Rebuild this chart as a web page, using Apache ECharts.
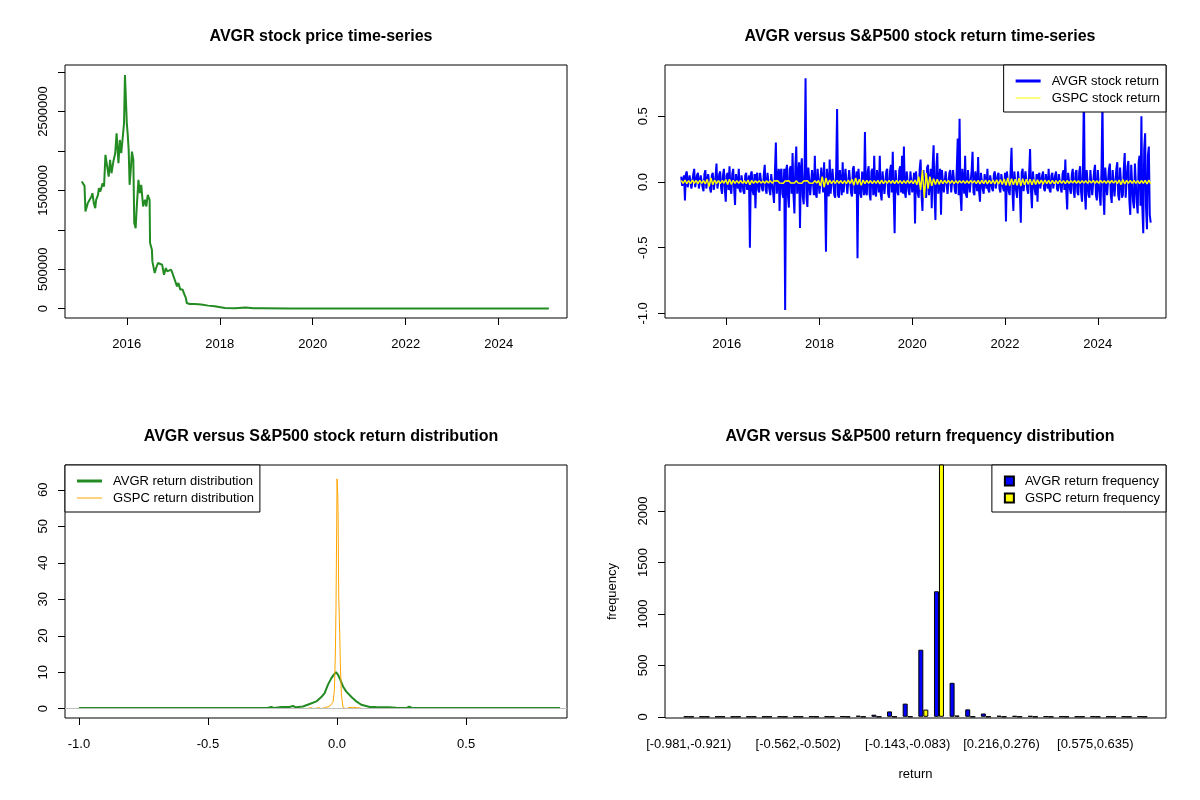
<!DOCTYPE html>
<html>
<head>
<meta charset="utf-8">
<title>AVGR versus S&amp;P500</title>
<script src="https://cdn.jsdelivr.net/npm/echarts@6.0.0/dist/echarts.min.js"></script>
<style>
html, body { margin: 0; padding: 0; background: #fff; }
#main { width: 1200px; height: 800px; }
</style>
</head>
<body>
<div id="main"></div>
<script>
// ---- AVGR price (decimal year, close) ----
var priceYears = [2015.03, 2015.07, 2015.09, 2015.11, 2015.14, 2015.16, 2015.2, 2015.24, 2015.26, 2015.29,
    2015.32, 2015.34, 2015.38, 2015.4, 2015.43, 2015.48, 2015.51, 2015.54, 2015.58, 2015.61,
    2015.64, 2015.67, 2015.71, 2015.75, 2015.78, 2015.82, 2015.85, 2015.88, 2015.91, 2015.94,
    2015.96, 2015.99, 2016.0, 2016.02, 2016.04, 2016.06, 2016.09, 2016.11, 2016.14, 2016.16,
    2016.19, 2016.21, 2016.25, 2016.28, 2016.31, 2016.35, 2016.39, 2016.42, 2016.45, 2016.49,
    2016.5, 2016.54, 2016.55, 2016.6, 2016.63, 2016.67, 2016.71, 2016.76, 2016.8, 2016.84,
    2016.87, 2016.95, 2016.98, 2017.03, 2017.08, 2017.11, 2017.15, 2017.2, 2017.24, 2017.27,
    2017.29, 2017.35, 2017.46, 2017.6, 2017.75, 2017.89, 2018.11, 2018.33, 2018.55, 2018.73,
    2018.91, 2019.5, 2020.5, 2021.5, 2022.5, 2023.5, 2024.5, 2025.08];
var priceValues = [1612000, 1591000, 1557000, 1232000, 1211000, 1338000, 1380000, 1422000, 1464000, 1338000,
    1274000, 1380000, 1443000, 1528000, 1485000, 1591000, 1549000, 1950000, 1971000, 1675000,
    1886000, 1717000, 1865000, 1971000, 2224000, 1844000, 2139000, 1971000, 2160000, 2351000,
    2962000, 2962000, 2351000, 2203000, 2013000, 1570000, 1802000, 1992000, 1886000, 1085000,
    1021000, 1253000, 1633000, 1464000, 1570000, 1296000, 1380000, 1296000, 1443000, 1380000,
    831000, 747000, 599000, 452000, 515000, 578000, 599000, 557000, 430000, 515000,
    473000, 494000, 452000, 367000, 283000, 325000, 241000, 241000, 177000, 135000,
    72000, 59000, 59000, 51000, 38000, 30000, 8000, 4000, 13000, 4000,
    4000, 3000, 2000, 2000, 1500, 1000, 1000, 800];

// ---- daily returns, AVGR read about weekly, GSPC about every 2 weeks, from 2015.02 ----
var retStart = 2015.02;
var avgrStep = 0.02;
var gspcStep = 0.04;
var avgrReturns = [
    0.04, -0.03, -0.02, 0.05, -0.14, 0.06, 0.08, -0.04, -0.05, 0.05, 0.06, -0.05, -0.04, 0.06, 0.1, -0.04, -0.05, 0.05, 0.07, -0.05,
    -0.06, 0.05, 0.05, -0.04, -0.07, 0.06, 0.09, -0.05, -0.05, 0.06, 0.06, -0.05, -0.08, 0.05, 0.07, -0.06, -0.05, 0.04, 0.14, -0.05,
    -0.06, 0.06, 0.08, -0.05, -0.09, 0.05, 0.1, -0.06, -0.15, 0.05, 0.07, -0.06, 0.12, -0.05, -0.09, 0.06, 0.1, -0.05, -0.175, 0.06,
    0.06, -0.05, 0.1, -0.06, -0.08, 0.05, 0.06, -0.07, -0.09, 0.05, 0.07, -0.06, -0.06, 0.05, -0.5, 0.06, 0.08, -0.07, -0.1, 0.06,
    -0.2, 0.05, 0.07, -0.06, -0.08, 0.07, 0.06, -0.05, -0.07, 0.06, 0.13, -0.06, -0.09, 0.07, 0.08, -0.06, -0.1, 0.06, 0.07, -0.08,
    -0.16, 0.08, 0.3, -0.09, -0.1, 0.1, -0.22, 0.08, 0.1, -0.09, -0.12, 0.1, -0.975, 0.09, 0.13, -0.1, -0.195, 0.1, 0.12, -0.09,
    0.22, -0.1, -0.24, 0.12, 0.27, -0.09, -0.1, 0.15, -0.35, 0.1, 0.18, -0.11, -0.17, 0.1, 0.79, -0.12, -0.19, 0.11, 0.12, -0.1,
    -0.11, 0.09, 0.1, -0.1, 0.2, -0.09, -0.12, 0.1, 0.1, -0.09, -0.08, 0.11, 0.12, -0.08, 0.15, -0.1, -0.53, 0.1, 0.09, -0.11,
    0.17, -0.09, -0.1, 0.1, 0.09, -0.1, -0.12, 0.09, 0.555, -0.1, -0.12, 0.09, 0.08, -0.1, 0.15, -0.08, -0.09, 0.1, 0.1, -0.09,
    -0.1, 0.09, 0.08, -0.08, -0.11, 0.1, 0.12, -0.09, -0.08, 0.08, -0.58, 0.1, 0.1, -0.09, -0.12, 0.08, 0.08, -0.1, 0.38, -0.08,
    -0.1, 0.08, 0.12, -0.09, -0.14, 0.08, 0.1, -0.1, 0.2, -0.08, -0.11, 0.09, 0.09, -0.08, 0.2, -0.09, -0.14, 0.08, 0.08, -0.09,
    -0.09, 0.08, 0.1, -0.09, -0.12, 0.08, 0.13, -0.08, 0.23, -0.1, -0.39, 0.09, 0.08, -0.08, -0.1, 0.09, 0.12, -0.08, 0.2, -0.09,
    0.27, -0.08, -0.12, 0.08, 0.09, -0.07, -0.1, 0.08, 0.07, -0.08, -0.08, 0.07, -0.315, 0.08, 0.09, -0.09, -0.12, 0.1, 0.17, -0.1,
    -0.22, 0.09, 0.1, -0.1, -0.12, 0.11, 0.13, -0.1, -0.09, 0.1, -0.2, 0.12, 0.28, -0.1, -0.29, 0.11, 0.22, -0.09, -0.1, 0.1,
    -0.25, 0.09, 0.1, -0.08, -0.09, 0.08, 0.08, -0.09, -0.1, 0.07, 0.09, -0.08, -0.08, 0.09, 0.1, -0.07, -0.09, 0.1, 0.33, -0.1,
    0.48, -0.1, -0.22, 0.1, 0.09, -0.09, 0.2, -0.1, -0.12, 0.09, 0.1, -0.08, -0.08, 0.09, 0.23, -0.08, -0.1, 0.08, 0.09, -0.07,
    0.19, -0.07, -0.15, 0.07, 0.08, -0.06, -0.09, 0.06, 0.07, -0.05, 0.1, -0.06, -0.08, 0.05, 0.06, -0.05, -0.07, 0.06, 0.08, -0.05,
    -0.06, 0.05, 0.07, -0.05, -0.08, 0.06, 0.06, -0.05, -0.07, 0.07, -0.3, 0.08, 0.08, -0.07, -0.1, 0.08, 0.26, -0.07, -0.22, 0.08,
    0.08, -0.07, -0.12, 0.08, 0.09, -0.08, -0.31, 0.07, 0.1, -0.07, -0.08, 0.08, 0.07, -0.06, -0.09, 0.07, 0.25, -0.07, -0.2, 0.08,
    0.08, -0.06, -0.1, 0.06, -0.15, 0.05, 0.07, -0.05, -0.06, 0.05, 0.08, -0.05, -0.07, 0.06, 0.06, -0.05, 0.1, -0.06, -0.08, 0.05,
    0.07, -0.05, -0.06, 0.05, 0.08, -0.05, -0.07, 0.06, 0.06, -0.05, -0.08, 0.06, 0.09, -0.06, 0.17, -0.07, -0.21, 0.07, 0.08, -0.06,
    -0.09, 0.06, 0.1, -0.07, -0.12, 0.07, 0.09, -0.08, -0.1, 0.08, 0.12, -0.08, -0.15, 0.09, 0.7, -0.09, -0.21, 0.09, 0.1, -0.1,
    -0.12, 0.09, 0.09, -0.1, -0.1, 0.08, 0.13, -0.1, -0.14, 0.09, 0.1, -0.11, -0.18, 0.1, 0.62, -0.1, -0.25, 0.11, 0.12, -0.1,
    -0.1, 0.1, 0.14, -0.1, -0.16, 0.09, 0.1, -0.11, -0.12, 0.1, 0.15, -0.1, -0.14, 0.11, 0.11, -0.12, -0.1, 0.1, 0.22, -0.12,
    -0.12, 0.12, 0.16, -0.14, -0.25, 0.13, 0.12, -0.15, -0.2, 0.14, 0.15, -0.16, -0.24, 0.15, 0.2, -0.18, 0.5, -0.2, -0.39, 0.25,
    0.37, -0.2, -0.36, 0.2, 0.27, -0.25, -0.31];
var gspcReturns = [
    0.012, -0.01, 0.015, -0.013, 0.01, -0.012, 0.014, -0.01, 0.011, -0.013,
    0.012, -0.011, 0.01, -0.014, 0.02, -0.035, 0.03, -0.02, 0.015, -0.012,
    0.01, -0.012, 0.011, -0.01, 0.018, -0.02, 0.02, -0.018, 0.012, -0.01,
    0.01, -0.011, 0.012, -0.01, 0.009, -0.012, 0.015, -0.02, 0.012, -0.01,
    0.009, -0.008, 0.01, -0.009, 0.008, -0.01, 0.009, -0.008, 0.01, -0.009,
    0.008, -0.007, 0.009, -0.008, 0.007, -0.009, 0.008, -0.007, 0.009, -0.008,
    0.007, -0.008, 0.009, -0.007, 0.008, -0.009, 0.007, -0.008, 0.009, -0.007,
    0.008, -0.009, 0.01, -0.008, 0.012, -0.03, 0.04, -0.04, 0.03, -0.02,
    0.015, -0.012, 0.01, -0.011, 0.012, -0.01, 0.011, -0.012, 0.01, -0.013,
    0.014, -0.012, 0.02, -0.025, 0.03, -0.02, 0.02, -0.025, 0.015, -0.012,
    0.012, -0.01, 0.011, -0.012, 0.01, -0.011, 0.012, -0.015, 0.014, -0.012,
    0.01, -0.011, 0.012, -0.01, 0.011, -0.013, 0.012, -0.01, 0.011, -0.012,
    0.01, -0.011, 0.012, -0.01, 0.011, -0.012, 0.015, -0.02, 0.04, -0.06,
    0.09, -0.12, 0.07, -0.05, 0.04, -0.03, 0.025, -0.02, 0.02, -0.018,
    0.015, -0.012, 0.013, -0.011, 0.012, -0.01, 0.011, -0.012, 0.01, -0.011,
    0.01, -0.009, 0.01, -0.011, 0.009, -0.01, 0.011, -0.009, 0.01, -0.012,
    0.012, -0.014, 0.013, -0.012, 0.014, -0.015, 0.012, -0.013, 0.015, -0.014,
    0.016, -0.015, 0.018, -0.02, 0.022, -0.025, 0.03, -0.028, 0.025, -0.022,
    0.02, -0.025, 0.028, -0.03, 0.025, -0.022, 0.02, -0.018, 0.02, -0.022,
    0.018, -0.02, 0.016, -0.015, 0.014, -0.016, 0.015, -0.013, 0.012, -0.014,
    0.013, -0.012, 0.011, -0.013, 0.012, -0.011, 0.01, -0.012, 0.011, -0.01,
    0.01, -0.009, 0.011, -0.01, 0.009, -0.011, 0.01, -0.009, 0.01, -0.011,
    0.01, -0.009, 0.011, -0.01, 0.009, -0.01, 0.011, -0.009, 0.01, -0.01,
    0.009, -0.01, 0.011, -0.009, 0.01, -0.012, 0.015, -0.02, 0.018, -0.015,
    0.012, -0.01, 0.011, -0.01, 0.012, -0.011, 0.01, -0.012, 0.011, -0.01,
    0.012, -0.015, 0.014, -0.012];

// ---- return densities ----
var avgrDensX = [-1.0, -0.5, -0.27, -0.255, -0.245, -0.215, -0.185, -0.17, -0.16, -0.15,
    -0.132, -0.106, -0.08, -0.061, -0.048, -0.035, -0.022, -0.013, -0.004, 0.004,
    0.013, 0.023, 0.036, 0.056, 0.075, 0.094, 0.127, 0.15, 0.2, 0.23,
    0.27, 0.28, 0.29, 0.5, 0.864];
var avgrDensY = [0.2, 0.2, 0.2, 0.5, 0.2, 0.45, 0.5, 0.75, 0.4, 0.5,
    0.6, 1.3, 2.0, 3.2, 4.3, 6.6, 8.4, 9.3, 10.0, 9.3,
    7.9, 6.1, 4.7, 3.2, 2.0, 1.1, 0.5, 0.45, 0.4, 0.3,
    0.2, 0.55, 0.2, 0.2, 0.2];
var gspcDensX = [-0.12, -0.1, -0.09, -0.07, -0.06, -0.045, -0.035, -0.027, -0.022, -0.0155,
    -0.0103, -0.0065, -0.004, -0.0013, 0, 0.0026, 0.004, 0.0065, 0.0103, 0.013,
    0.0168, 0.023, 0.034, 0.045, 0.06, 0.075, 0.09, 0.1];
var gspcDensY = [0, 0.3, 0, 0.3, 0, 0.4, 0.5, 0.8, 0.5, 1.8,
    5, 15, 28, 50, 63, 59, 54, 31, 21, 12,
    4, 0.4, 0, 0.3, 0.4, 0.3, 0.2, 0];

// ---- frequency table ----
var binLabels = ['[-0.981,-0.921)', '[-0.921,-0.861)', '[-0.861,-0.801)', '[-0.801,-0.742)', '[-0.742,-0.682)',
    '[-0.682,-0.622)', '[-0.622,-0.562)', '[-0.562,-0.502)', '[-0.502,-0.442)', '[-0.442,-0.383)',
    '[-0.383,-0.323)', '[-0.323,-0.263)', '[-0.263,-0.203)', '[-0.203,-0.143)', '[-0.143,-0.083)',
    '[-0.083,-0.023)', '[-0.023,0.036)', '[0.036,0.096)', '[0.096,0.156)', '[0.156,0.216)',
    '[0.216,0.276)', '[0.276,0.336)', '[0.336,0.396)', '[0.396,0.455)', '[0.455,0.515)',
    '[0.515,0.575)', '[0.575,0.635)', '[0.635,0.695)', '[0.695,0.755)', '[0.755,0.814)'];
var avgrFreq = [1, 0, 0, 0, 0, 0, 1, 1, 2, 1, 3, 10, 20, 52, 128, 652, 1220, 330, 72, 32, 10, 8, 8, 3, 2, 1, 2, 1, 1, 2];
var gspcFreq = [0, 0, 0, 0, 0, 0, 0, 0, 0, 0, 0, 0, 0, 0, 1, 70, 2455, 12, 0, 0, 0, 0, 0, 0, 0, 0, 0, 0, 0, 0];
var shownBins = [0, 7, 14, 20, 26];

var FONT = '"Liberation Sans", Arial, sans-serif';
var FS = 13;

var zip = function (xs, ys) {
    var res = [];
    for (var i = 0; i < xs.length; i++) {
        res.push([xs[i], ys[i]]);
    }
    return res;
};
var retSeries = function (vals, step) {
    var res = [];
    for (var i = 0; i < vals.length; i++) {
        res.push([retStart + i * step, vals[i]]);
    }
    return res;
};
// barplot(beside=TRUE) puts group i at 3*i+2
var barPos = function (i) { return 3 * i + 2; };
var barSeries = function (vals) {
    var res = [];
    for (var i = 0; i < vals.length; i++) {
        res.push([barPos(i), vals[i]]);
    }
    return res;
};

function xAx(grid, min, max, ticks, fmt) {
    return {
        type: 'value', gridIndex: grid, min: min, max: max,
        axisLine: { show: false, onZero: false },
        splitLine: { show: false },
        axisTick: { show: true, length: 7, customValues: ticks, lineStyle: { color: '#000' } },
        axisLabel: { customValues: ticks, formatter: fmt, margin: 20, color: '#000', fontSize: FS, fontFamily: FONT }
    };
}
function yAx(grid, min, max, ticks, labels, fmt) {
    return {
        type: 'value', gridIndex: grid, min: min, max: max,
        axisLine: { show: false, onZero: false },
        splitLine: { show: false },
        axisTick: { show: true, length: 7, customValues: ticks, lineStyle: { color: '#000' } },
        axisLabel: { customValues: labels, formatter: fmt, rotate: 90, margin: 15, color: '#000', fontSize: FS, fontFamily: FONT }
    };
}
var plain = function (v) { return String(v); };
var oneDec = function (v) { return v.toFixed(1); };
var years = [2016, 2018, 2020, 2022, 2024];

var thick = 'path://M0,0H25V3H0Z';
var thin = 'path://M0,0H25V1H0Z';

function legendBox(pos, items, w, h) {
    var l = {
        orient: 'vertical', top: pos.top,
        data: items,
        itemWidth: w, itemHeight: h, itemGap: 3,
        padding: [9, 6, 7, 12],
        borderColor: '#000', borderWidth: 1, borderRadius: 0,
        backgroundColor: '#fff',
        textStyle: { color: '#000', fontSize: FS, fontFamily: FONT, lineHeight: 14, padding: [0, 0, 0, 6] },
        selectedMode: false
    };
    if (pos.left !== undefined) l.left = pos.left;
    if (pos.right !== undefined) l.right = pos.right;
    return l;
}

function titleAt(text, x, y) {
    return {
        text: text, left: x, top: y, textAlign: 'center',
        textStyle: { color: '#000', fontSize: 16, fontWeight: 'bold', fontFamily: FONT }
    };
}

var chart = echarts.init(document.getElementById('main'));
var option = {
    animation: false,
    backgroundColor: '#fff',
    title: [
        titleAt('AVGR stock price time-series', 316, 24),
        titleAt('AVGR versus S&P500 stock return time-series', 915, 24),
        titleAt('AVGR versus S&P500 stock return distribution', 316, 424),
        titleAt('AVGR versus S&P500 return frequency distribution', 915, 424)
    ],
    grid: [
        { left: 65, top: 65, width: 502, height: 253, show: true, borderColor: '#000', borderWidth: 1 },
        { left: 665, top: 65, width: 501, height: 253, show: true, borderColor: '#000', borderWidth: 1 },
        { left: 65, top: 465, width: 502, height: 253, show: true, borderColor: '#000', borderWidth: 1 },
        { left: 665, top: 465, width: 501, height: 253, show: true, borderColor: '#000', borderWidth: 1 }
    ],
    xAxis: [
        xAx(0, 2014.67, 2025.47, years, plain),
        xAx(1, 2014.67, 2025.47, years, plain),
        xAx(2, -1.054, 0.891, [-1, -0.5, 0, 0.5], oneDec),
        {
            type: 'value', gridIndex: 3, min: -2.56, max: 93.56,
            name: 'return', nameLocation: 'middle', nameGap: 50,
            nameTextStyle: { color: '#000', fontSize: FS, fontFamily: FONT },
            axisLine: { show: false, onZero: false }, axisTick: { show: false }, splitLine: { show: false },
            axisLabel: {
                customValues: shownBins.map(barPos),
                formatter: function (v) { return binLabels[(v - 2) / 3]; },
                margin: 20, color: '#000', fontSize: FS, fontFamily: FONT
            }
        }
    ],
    yAxis: [
        yAx(0, -119000, 3090000, [0, 500000, 1000000, 1500000, 2000000, 2500000, 3000000], [0, 500000, 1500000, 2500000], plain),
        yAx(1, -1.035, 0.89, [-1, -0.5, 0, 0.5], [-1, -0.5, 0, 0.5], oneDec),
        yAx(2, -2.54, 66.8, [0, 10, 20, 30, 40, 50, 60], [0, 10, 20, 30, 40, 50, 60], plain),
        (function () {
            var a = yAx(3, -12, 2448, [0, 500, 1000, 1500, 2000], [0, 500, 1000, 1500, 2000], plain);
            a.name = 'frequency';
            a.nameLocation = 'middle';
            a.nameRotate = 90;
            a.nameGap = 46;
            a.nameTextStyle = { color: '#000', fontSize: FS, fontFamily: FONT };
            return a;
        })()
    ],
    legend: [
        legendBox({ right: 34, top: 65 }, [
            { name: 'AVGR stock return', icon: thick },
            { name: 'GSPC stock return', icon: thin }
        ], 25, 3),
        legendBox({ left: 65, top: 465 }, [
            { name: 'AVGR return distribution', icon: thick },
            { name: 'GSPC return distribution', icon: thin }
        ], 25, 3),
        legendBox({ right: 34, top: 465 }, [
            { name: 'AVGR return frequency', icon: 'rect' },
            { name: 'GSPC return frequency', icon: 'rect' }
        ], 9, 9)
    ],
    series: [
        {
            name: 'AVGR price', type: 'line', xAxisIndex: 0, yAxisIndex: 0,
            data: zip(priceYears, priceValues), showSymbol: false,
            lineStyle: { color: '#228B22', width: 2 }, itemStyle: { color: '#228B22' }
        },
        {
            name: 'AVGR stock return', type: 'line', xAxisIndex: 1, yAxisIndex: 1,
            data: retSeries(avgrReturns, avgrStep), showSymbol: false,
            lineStyle: { color: '#0000FF', width: 2 }, itemStyle: { color: '#0000FF' }
        },
        {
            name: 'GSPC stock return', type: 'line', xAxisIndex: 1, yAxisIndex: 1,
            data: retSeries(gspcReturns, gspcStep), showSymbol: false,
            lineStyle: { color: '#FFFF00', width: 1.5 }, itemStyle: { color: '#FFFF00' }
        },
        {
            name: 'AVGR return distribution', type: 'line', xAxisIndex: 2, yAxisIndex: 2,
            data: zip(avgrDensX, avgrDensY), showSymbol: false,
            lineStyle: { color: '#228B22', width: 2 }, itemStyle: { color: '#228B22' }
        },
        {
            name: 'GSPC return distribution', type: 'line', xAxisIndex: 2, yAxisIndex: 2,
            data: zip(gspcDensX, gspcDensY), showSymbol: false,
            lineStyle: { color: '#FFA500', width: 1 }, itemStyle: { color: '#FFA500' },
            markLine: {
                silent: true, symbol: ['none', 'none'], label: { show: false },
                lineStyle: { color: '#BEBEBE', type: 'solid', width: 1 },
                data: [{ yAxis: 0 }]
            }
        },
        {
            name: 'AVGR return frequency', type: 'bar', xAxisIndex: 3, yAxisIndex: 3,
            data: barSeries(avgrFreq), barWidth: 5, barGap: '0%',
            itemStyle: { color: '#0000FF', borderColor: '#000', borderWidth: 1 }
        },
        {
            name: 'GSPC return frequency', type: 'bar', xAxisIndex: 3, yAxisIndex: 3,
            data: barSeries(gspcFreq), barWidth: 5, barGap: '0%', clip: true,
            itemStyle: { color: '#FFFF00', borderColor: '#000', borderWidth: 1 }
        }
    ]
};
chart.setOption(option);
window.addEventListener('resize', function () {
    chart.resize();
});
</script>
</body>
</html>
